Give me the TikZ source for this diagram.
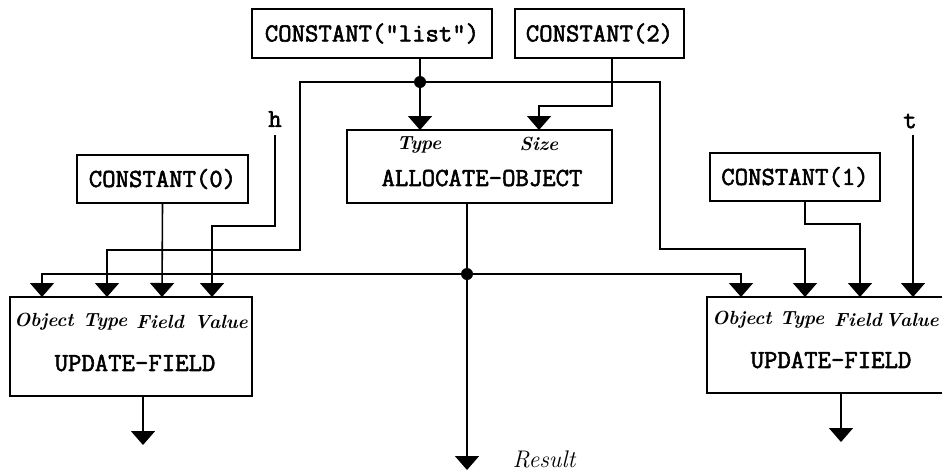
\documentclass[tikz,border=0pt]{standalone}
\usepackage{fontspec}
\setmonofont{Latin Modern Mono}[AutoFakeBold=2.2]
\usetikzlibrary{arrows.meta}
\tikzset{
  box/.style={draw, line width=1.6pt, inner sep=0pt, font=\fontsize{26}{28}\selectfont\ttfamily\bfseries},
  wire/.style={line width=1.6pt},
  arr/.style={wire, -{Triangle[width=24pt,length=14pt]}},
  jdot/.style={circle, fill, inner sep=0pt, minimum size=12pt},
  port/.style={inner sep=0pt, font=\fontsize{19}{21}\selectfont\bfseries\itshape},
  vlab/.style={inner sep=0pt, font=\fontsize{26}{28}\selectfont\ttfamily\bfseries},
  reslab/.style={inner sep=0pt, font=\fontsize{24}{26}\selectfont\itshape}
}
\begin{document}
\begin{tikzpicture}[x=1pt,y=-1pt]
\clip (0,0) rectangle (942,472);
% boxes
\node[box, minimum width=240pt, minimum height=49pt] (clist) at (372,33.5) {CONSTANT("list")};
\node[box, minimum width=169pt, minimum height=49pt] (ctwo) at (599.5,33.5) {CONSTANT(2)};
\node[box, minimum width=171pt, minimum height=48pt] (czero) at (162.5,179) {CONSTANT(0)};
\node[box, minimum width=170pt, minimum height=48pt] (cone) at (795,177) {CONSTANT(1)};
\node[box, minimum width=265pt, minimum height=73pt] (alloc) at (479.5,166.5) {};
\node[box, minimum width=242pt, minimum height=99pt] (lupd) at (131,346.5) {};
\node[box, minimum width=253pt, minimum height=96pt] (rupd) at (833.5,345) {};
% texts in boxes
\node[vlab] (alloctxt) at (482,178) {ALLOCATE-OBJECT};
\node[port] (atype) at (419,145) {Type};
\node[port] (asize) at (539,144) {Size};
\node[vlab] (lupdtxt) at (135,363) {UPDATE-FIELD};
\node[port] (lobjl) at (44,322) {Object};
\node[port] (ltypl) at (105,322) {Type};
\node[port] (lfldl) at (160,322) {Field};
\node[port] (lvall) at (221,322) {Value};
\node[vlab] (rupdtxt) at (831,360) {UPDATE-FIELD};
\node[port] (robjl) at (742,320) {Object};
\node[port] (rtypl) at (802,320) {Type};
\node[port] (rfldl) at (858,320) {Field};
\node[port] (rvall) at (912,320) {Value};
% free labels
\node[vlab] (hlab) at (275,119) {h};
\node[vlab] (tlab) at (910,121) {t};
\node[reslab] (reslab) at (544,459) {Result};
% coordinates
\coordinate (jtop) at (420,82);
\coordinate (jmid) at (467,274);
\coordinate (atypein) at (420,130);
\coordinate (asizein) at (539,130);
\coordinate (lobj) at (42,297);
\coordinate (ltyp) at (107,297);
\coordinate (lfld) at (162,297);
\coordinate (lval) at (212,297);
\coordinate (robj) at (741,297);
\coordinate (rtyp) at (805,297);
\coordinate (rfld) at (860,297);
\coordinate (rval) at (913,297);
\coordinate (restip) at (467,470);
\coordinate (lout) at (143,445);
\coordinate (rout) at (841,442);
% junction dots
\node[jdot] (dtop) at (jtop) {};
\node[jdot] (dmid) at (jmid) {};
% connectors
\draw[wire] (clist.south -| jtop) -- (dtop.center);
\draw[arr] (dtop.center) -- (atypein);
\draw[arr] (dtop.center) -- (300,82) -- (300,250) -- (107,250) -- (ltyp);
\draw[arr] (dtop.center) -- (660,82) -- (660,249) -- (805,249) -- (rtyp);
\draw[arr] (ctwo.south -| 612,0) -- (612,106) -- (539,106) -- (asizein);
\draw[arr] (275,135) -- (275,226) -- (212,226) -- (lval);
\draw[arr] (czero.south) -- (lfld);
\draw[wire] (alloc.south -| jmid) -- (dmid.center);
\draw[arr] (dmid.center) -- (restip);
\draw[arr] (dmid.center) -- (42,274) -- (lobj);
\draw[arr] (dmid.center) -- (741,274) -- (robj);
\draw[arr] (cone.south -| 805,0) -- (805,224) -- (860,224) -- (rfld);
\draw[arr] (913,135) -- (rval);
\draw[arr] (lupd.south -| lout) -- (lout);
\draw[arr] (rupd.south -| rout) -- (rout);
\end{tikzpicture}
\end{document}
